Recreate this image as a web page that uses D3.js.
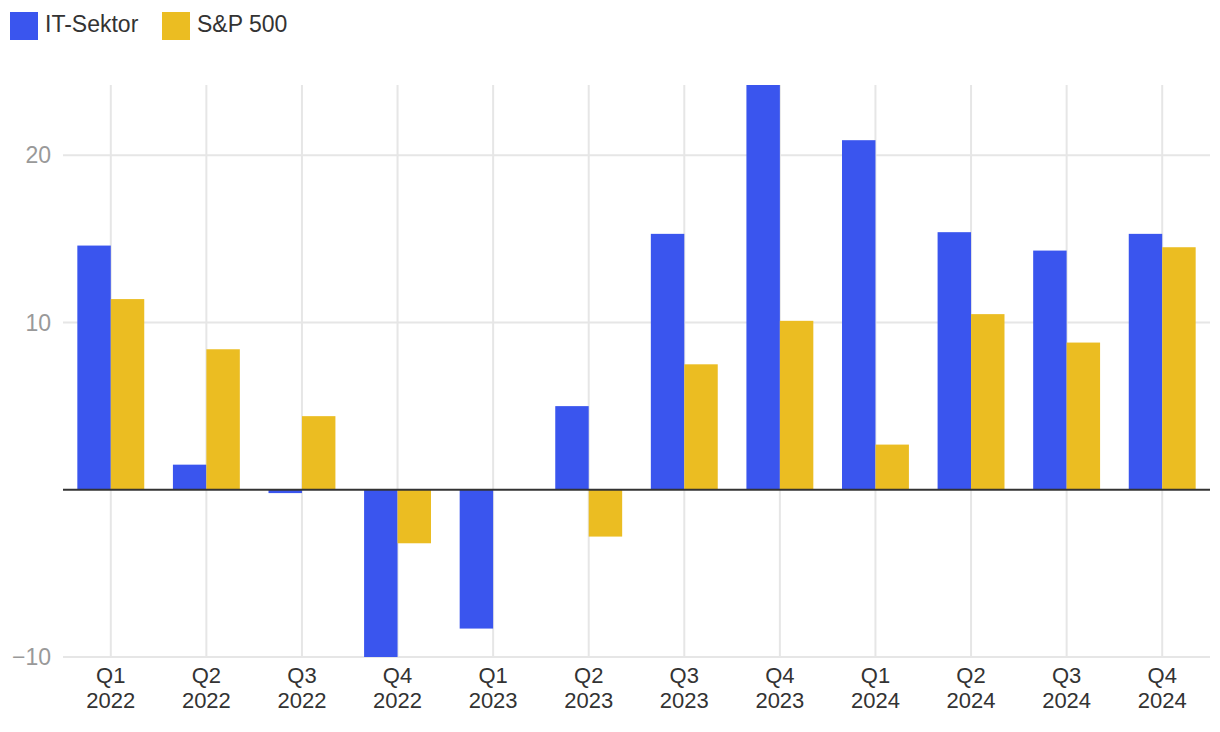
<!DOCTYPE html>
<html><head><meta charset="utf-8">
<script src="https://cdn.jsdelivr.net/npm/d3@7"></script>
<style>body{margin:0;background:#fff;font-family:"Liberation Sans",Arial,sans-serif;}</style>
</head><body><svg id="c" width="1220" height="732"></svg>
<script>
const quarters = ["Q1","Q2","Q3","Q4","Q1","Q2","Q3","Q4","Q1","Q2","Q3","Q4"];
const years = ["2022","2022","2022","2022","2023","2023","2023","2023","2024","2024","2024","2024"];
const seriesNames = ["IT-Sektor","S&P 500"];
const itValues = [14.6, 1.5, -0.2, -10.0, -8.3, 5.0, 15.3, 24.2, 20.9, 15.4, 14.3, 15.3];
const spValues = [11.4, 8.4, 4.4, -3.2, 0.0, -2.8, 7.5, 10.1, 2.7, 10.5, 8.8, 14.5];
const yTicks = [-10, 10, 20];
const colors = ["#3a55ee", "#ebbd22"];

const svg = d3.select("#c");
const m = {top:85, right:10, bottom:75, left:63};
const W = 1220, H = 732;
const iw = W - m.left - m.right, ih = H - m.top - m.bottom;
const g = svg.append("g").attr("transform",`translate(${m.left},${m.top})`);

const idx = d3.range(quarters.length);
const x = d3.scaleBand().domain(idx).range([0, iw]).paddingInner(0.3).paddingOuter(0.15);
const xc = i => x(i) + x.bandwidth()/2;
const y = d3.scaleLinear().domain([-10, 24.2]).range([ih, 0]);
const x1 = d3.scaleBand().domain([0,1]).range([0, x.bandwidth()]);

// horizontal gridlines
g.append("g").selectAll("line").data(yTicks).join("line")
  .attr("x1",0).attr("x2",iw).attr("y1",d=>y(d)).attr("y2",d=>y(d))
  .attr("stroke","#e6e6e6").attr("stroke-width",2);
// vertical gridlines
g.append("g").selectAll("line").data(idx).join("line")
  .attr("x1",xc).attr("x2",xc).attr("y1",0).attr("y2",ih)
  .attr("stroke","#e6e6e6").attr("stroke-width",2);

// y labels
g.append("g").selectAll("text").data(yTicks).join("text")
  .attr("x",-12).attr("y",d=>y(d)).attr("dy","0.35em").attr("text-anchor","end")
  .attr("fill","#999").attr("font-size",23)
  .text(d=>d<0 ? "\u2212"+Math.abs(d) : d);

// bars
const data = [itValues, spValues];
data.forEach((vals, s) => {
  g.append("g").selectAll("rect").data(idx).join("rect")
    .attr("x", i => x(i) + x1(s))
    .attr("width", x1.bandwidth())
    .attr("y", i => y(Math.max(0, vals[i])))
    .attr("height", i => Math.abs(y(vals[i]) - y(0)))
    .attr("fill", colors[s]);
});

// zero line
g.append("line").attr("x1",0).attr("x2",iw).attr("y1",y(0)).attr("y2",y(0))
  .attr("stroke","#333").attr("stroke-width",2);

// x labels
const xl = g.append("g").selectAll("text").data(idx).join("text")
  .attr("x",xc).attr("text-anchor","middle").attr("fill","#333").attr("font-size",22);
xl.append("tspan").attr("x",xc).attr("y",ih+26).text(i=>quarters[i]);
xl.append("tspan").attr("x",xc).attr("y",ih+51).text(i=>years[i]);

// legend
const lg = svg.append("g");
const lx = [10, 162];
seriesNames.forEach((n,s)=>{
  lg.append("rect").attr("x",lx[s]).attr("y",12).attr("width",28).attr("height",28).attr("fill",colors[s]);
  lg.append("text").attr("x",lx[s]+35).attr("y",32).attr("font-size",23).attr("fill","#333").text(n);
});
</script></body></html>
